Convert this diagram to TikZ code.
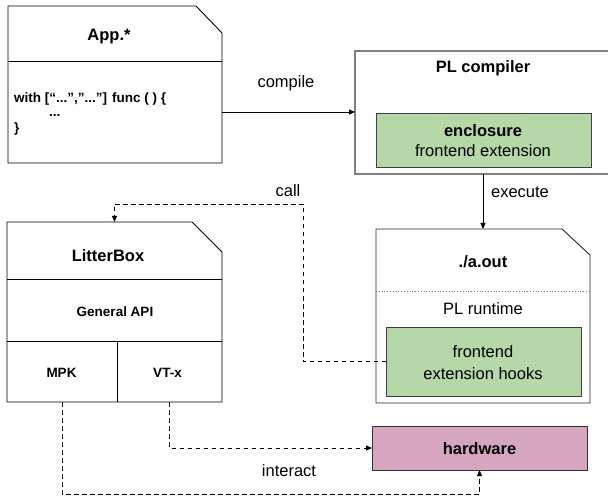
\documentclass[tikz,border=0pt]{standalone}
\usepackage{fontspec}
\setmainfont{Liberation Sans}
\usetikzlibrary{arrows.meta}
\definecolor{gfill}{HTML}{B6D7A8}
\definecolor{hfill}{HTML}{D5A6BD}
\definecolor{gline}{HTML}{808080}
\tikzset{
  area/.style={inner sep=0pt, outer sep=0pt, draw=none},
  card/.style={draw=black, line width=0.9pt, line join=miter},
  sepline/.style={draw=black, line width=0.9pt},
  title/.style={font=\fontsize{16.5}{19}\selectfont\bfseries, inner sep=0pt},
  small/.style={font=\fontsize{13.5}{16}\selectfont\bfseries, inner sep=0pt},
  plain/.style={font=\fontsize{16.5}{19}\selectfont, inner sep=0pt},
  greenbox/.style={area, fill=gfill, draw=black!75, line width=0.9pt, align=center},
  arr/.style={line width=0.9pt, -{Triangle[length=6pt,width=5pt]}},
  darr/.style={line width=0.9pt, dash pattern=on 4.5pt off 3.5pt, -{Triangle[length=6pt,width=5pt]}},
}
\begin{document}
\begin{tikzpicture}[x=1pt,y=-1pt]
\useasboundingbox (0,0) rectangle (608,497);
% ---------- App.* ----------
\node[area, minimum width=214pt, minimum height=157pt] (app) at (115,84.5) {};
\node[area, minimum width=214pt, minimum height=102pt] (appbody) at (115,112) {};
\draw[card] (app.north west) -- ([xshift=-26pt]app.north east) -- ([yshift=-27pt]app.north east) -- (app.south east) -- (app.south west) -- cycle;
\draw[sepline] (app.west |- appbody.north) -- (app.east |- appbody.north);
\node[title] (apptitle) at (109,37) {App.*};
\node[small, anchor=west] (code1) at (14,99) {with [“...”,”...”] func ( ) \{};
\node[small, anchor=west] (code2) at (49,115) {...};
\node[small, anchor=west] (code3) at (14,129) {\}};
% ---------- PL compiler ----------
\node[area, minimum width=256pt, minimum height=123pt] (plc) at (483,112.5) {};
\draw[draw=gline, line width=1.2pt] (plc.north west) rectangle (plc.south east);
\node[title] (plctitle) at (483,68) {PL compiler};
\node[greenbox, minimum width=215pt, minimum height=54pt] (encl) at (483.5,140) {};
\node[title] (encl1) at (483,131) {enclosure};
\node[plain] (encl2) at (483,151) {frontend extension};
% ---------- ./a.out ----------
\node[area, minimum width=214pt, minimum height=174pt] (aout) at (483,316) {};
\draw[card, draw=black!85] (aout.north west) -- ([xshift=-28pt]aout.north east) -- ([yshift=-26pt]aout.north east) -- (aout.south east) -- (aout.south west) -- cycle;
\draw[draw=gline, line width=0.8pt, dotted] (376,291) -- (590,291);
\node[title] (aouttitle) at (483,262) {./a.out};
\node[plain] (plrt) at (483,309) {PL runtime};
\node[greenbox, minimum width=195pt, minimum height=69pt] (hooks) at (483.5,361.5) {};
\node[plain] (hooks1) at (483,352) {frontend};
\node[plain] (hooks2) at (483,374) {extension hooks};
% ---------- LitterBox ----------
\node[area, minimum width=215pt, minimum height=180pt] (lb) at (114.5,312) {};
\node[area, minimum width=215pt, minimum height=62pt] (api) at (114.5,310) {};
\node[area, minimum width=110pt, minimum height=61pt] (mpk) at (62,371.5) {};
\node[area, minimum width=105pt, minimum height=61pt] (vtx) at (169.5,371.5) {};
\draw[card] (lb.north west) -- ([xshift=-30pt]lb.north east) -- ([yshift=-30pt]lb.north east) -- (lb.south east) -- (lb.south west) -- cycle;
\draw[sepline] (lb.west |- api.north) -- (lb.east |- api.north);
\draw[sepline] (lb.west |- api.south) -- (lb.east |- api.south);
\draw[sepline] (mpk.north east) -- (mpk.south east);
\node[title] (lbtitle) at (108,256) {LitterBox};
\node[small] (apitext) at (115,312) {General API};
\node[small] (mpktext) at (61.5,373) {MPK};
\node[small] (vtxtext) at (167.5,373) {VT-x};
% ---------- hardware ----------
\node[area, fill=hfill, draw=black!80, line width=0.9pt, minimum width=215pt, minimum height=44pt] (hw) at (479.5,448) {};
\node[title] (hwtext) at (479.5,449) {hardware};
% ---------- connectors ----------
\draw[arr] (appbody.east) -- (appbody.east -| plc.west);
\node[plain] (compilelbl) at (286,83) {compile};
\draw[arr] (plc.south) -- (aout.north);
\node[plain] (execlbl) at (520,192) {execute};
\coordinate (c1) at (303,204);
\draw[darr] (hooks.west) -| (c1) -| (lb.north);
\node[plain] (calllbl) at (288,191) {call};
\draw[darr] (vtx.south) |- (hw.west);
\coordinate (c2) at (62,494);
\draw[darr] (mpk.south) -- (c2) -| (hw.south);
\node[plain] (interlbl) at (289,471) {interact};
\end{tikzpicture}
\end{document}
